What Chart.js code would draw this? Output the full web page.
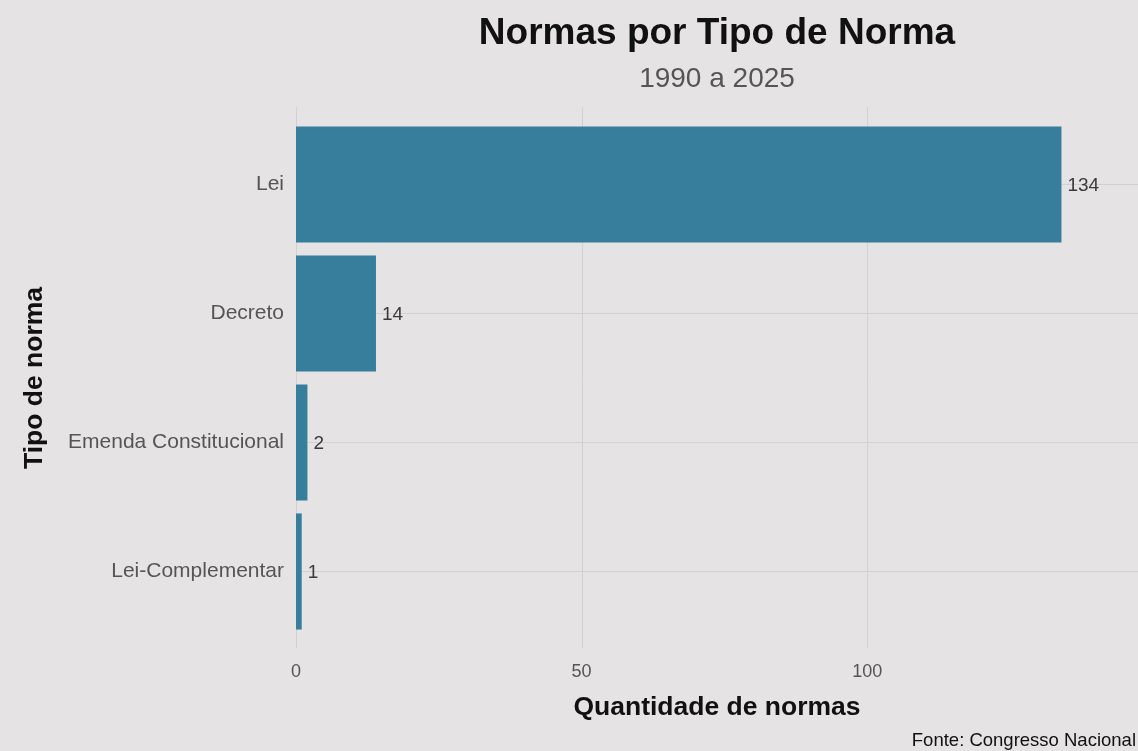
<!DOCTYPE html>
<html>
<head>
<meta charset="utf-8">
<script src="https://cdn.jsdelivr.net/npm/chart.js@4.4.1/dist/chart.umd.min.js"></script>
<style>
  html, body { margin: 0; padding: 0; background: #e5e3e3; }
  #wrap { width: 1138px; height: 751px; }
</style>
</head>
<body>
<div id="wrap"><canvas id="normasChart"></canvas></div>
<script>
// dados
const tipos = ['Lei', 'Decreto', 'Emenda Constitucional', 'Lei-Complementar'];
const quantidades = [134, 14, 2, 1];
const xTicks = [0, 50, 100];

const fonte = 'Liberation Sans, Arial, sans-serif';
const corBarra = '#367e9b';
const corGrade = '#d2d0d0';

// título e subtítulo centrados no painel (como no ggplot), rótulos e fonte
const textos = {
    id: 'textos',
    afterDatasetsDraw(chart) {
        const ctx = chart.ctx;
        const meta = chart.getDatasetMeta(0);
        ctx.save();
        ctx.font = '19px ' + fonte;
        ctx.fillStyle = '#3a3a3a';
        ctx.textAlign = 'left';
        ctx.textBaseline = 'middle';
        meta.data.forEach((bar, i) => {
            ctx.fillText(quantidades[i], bar.x + 6, bar.y + 1);
        });
        ctx.restore();
    },
    afterDraw(chart) {
        const ctx = chart.ctx;
        const area = chart.chartArea;
        const cx = (area.left + area.right) / 2;
        ctx.save();
        ctx.textAlign = 'center';
        ctx.textBaseline = 'middle';
        ctx.font = 'bold 37px ' + fonte;
        ctx.fillStyle = '#111';
        ctx.fillText('Normas por Tipo de Norma', cx, 34);
        ctx.font = '28px ' + fonte;
        ctx.fillStyle = '#555';
        ctx.fillText('1990 a 2025', cx, 79);

        ctx.font = '18.5px ' + fonte;
        ctx.fillStyle = '#111';
        ctx.textAlign = 'right';
        ctx.fillText('Fonte: Congresso Nacional', chart.width - 2, 741);
        ctx.restore();
    }
};

// linhas verticais da grade um pouco além da área (como no ggplot)
const gradeX = {
    id: 'gradeX',
    beforeDatasetsDraw(chart) {
        const ctx = chart.ctx;
        const x = chart.scales.x;
        const area = chart.chartArea;
        ctx.save();
        ctx.strokeStyle = corGrade;
        ctx.lineWidth = 1;
        xTicks.forEach(v => {
            const px = Math.round(x.getPixelForValue(v)) + 0.5;
            ctx.beginPath();
            ctx.moveTo(px, area.top - 13);
            ctx.lineTo(px, area.bottom + 12);
            ctx.stroke();
        });
        ctx.restore();
    }
};

const ctx = document.getElementById('normasChart').getContext('2d');
new Chart(ctx, {
    type: 'bar',
    data: {
        labels: tipos,
        datasets: [{
            data: quantidades,
            backgroundColor: corBarra,
            borderWidth: 0,
            categoryPercentage: 0.9,
            barPercentage: 1
        }]
    },
    options: {
        indexAxis: 'y',
        responsive: true,
        maintainAspectRatio: false,
        animation: false,
        layout: { padding: { top: 120, left: 0, right: 0, bottom: 0 } },
        plugins: {
            legend: { display: false },
            tooltip: { enabled: false },
            title: { display: false },
            subtitle: { display: false }
        },
        scales: {
            x: {
                min: 0,
                max: 147.4,
                border: { display: false },
                grid: { display: false },
                ticks: {
                    stepSize: 50,
                    includeBounds: false,
                    color: '#555',
                    font: { family: fonte, size: 18 },
                    padding: 17
                },
                title: {
                    display: true,
                    text: 'Quantidade de normas',
                    color: '#111',
                    font: { family: fonte, size: 26.5, weight: 'bold' },
                    padding: { top: 0, bottom: 27 }
                },
                afterFit(scale) { scale.height = 115; }
            },
            y: {
                border: { display: false },
                grid: { color: corGrade, offset: false, drawTicks: false },
                ticks: {
                    color: '#555',
                    font: { family: fonte, size: 21 },
                    padding: 12
                },
                title: {
                    display: true,
                    text: 'Tipo de norma',
                    color: '#111',
                    font: { family: fonte, size: 26.5, weight: 'bold' },
                    padding: { top: 19, bottom: 0 }
                },
                afterFit(scale) { scale.width = 296; }
            }
        }
    },
    plugins: [gradeX, textos]
});
</script>
</body>
</html>
